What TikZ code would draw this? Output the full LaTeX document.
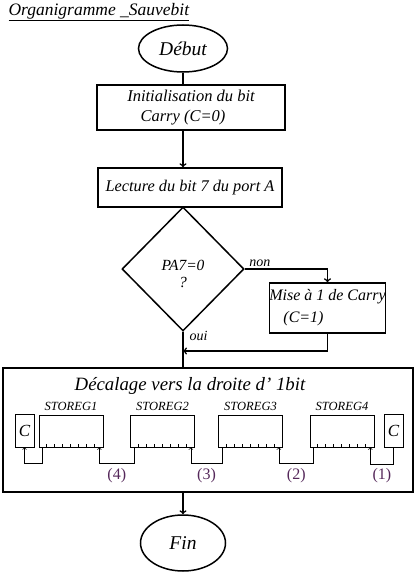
\documentclass[tikz,border=0pt]{standalone}
\usepackage{fontspec}
\setmainfont{Liberation Serif}
\usetikzlibrary{shapes.geometric,arrows}

\definecolor{violet}{RGB}{85,40,90}

\begin{document}
\begin{tikzpicture}[x=1pt,y=-1pt,
        trait/.style={line width=1.5pt},
        fleche/.style={trait,->},
        boite/.style={draw,trait,inner sep=0pt,align=center,font=\itshape\fontsize{16}{20}\selectfont},
        bout/.style={draw,trait,ellipse,inner sep=0pt,font=\itshape\fontsize{19.5}{22}\selectfont},
        reg/.style={draw,line width=0.7pt,minimum width=64pt,minimum height=32pt,inner sep=0pt},
        bitc/.style={draw,line width=0.7pt,minimum width=19pt,minimum height=33pt,inner sep=0pt,font=\itshape\fontsize{17}{20}\selectfont},
        nomreg/.style={font=\itshape\fontsize{12.5}{14}\selectfont,above=0pt},
        num/.style={below=1pt,text=violet,font=\fontsize{16}{18}\selectfont},
        petit/.style={font=\itshape\fontsize{14}{16}\selectfont},
        lien/.style={line width=0.7pt}]
        \useasboundingbox (0,0) rectangle (419,578);
        % titre
        \node[anchor=west,font=\itshape\fontsize{17.5}{20}\selectfont] (titre) at (5,12) {\underline{Organigramme \_Sauvebit}};
        % organigramme
        \node[bout,minimum width=89pt,minimum height=47pt] (debut) at (183,48.5) {D\'ebut};
        \node[boite,minimum width=188pt,minimum height=45pt,font=\itshape\fontsize{16.5}{20}\selectfont] (init) at (191,107.5)
                {Initialisation du bit\\Carry (C=0)\hspace*{16pt}};
        \node[boite,minimum width=184pt,minimum height=39pt,font=\itshape\fontsize{16.3}{20}\selectfont] (lecture) at (190,187.5)
                {Lecture du bit 7 du port A};
        \node[draw,trait,diamond,minimum width=122pt,minimum height=124pt,inner sep=0pt] (test) at (183,269) {};
        \node[align=center,font=\itshape\fontsize{15.5}{17}\selectfont] (cond) at ([yshift=-5pt]test.center) {PA7=0\\?};
        \node[boite,minimum width=115pt,minimum height=50pt,font=\itshape\fontsize{16}{22}\selectfont] (mise) at (327.5,308)
                {Mise \`a 1 de Carry\\(C=1)\hspace*{48pt}};
        \node[draw,trait,minimum width=410pt,minimum height=124pt] (decal) at (208,430) {};
        \node[font=\itshape\fontsize{18.8}{22}\selectfont] (titredecal) at (190,386)
                {D\'ecalage vers la droite d' 1bit};
        \node[bout,minimum width=85pt,minimum height=56pt] (fin) at (183,543) {Fin};
        % registres
        \node[bitc] (cg) at (24.5,430.5) {C};
        \node[reg] (r1) at (71,431) {};
        \node[reg] (r2) at (162.5,431) {};
        \node[reg] (r3) at (250.5,431) {};
        \node[reg] (r4) at (342,431) {};
        \node[bitc] (cd) at (393.5,431) {C};
        \foreach \r/\n in {r1/1,r2/2,r3/3,r4/4} {
                \node[nomreg] at (\r.north) {STOREG\n};
                \foreach \i in {1,...,7}
                        \draw[lien] ([xshift=8*\i pt]\r.south west) -- ++(0,-3);
        }
        % liaisons
        \draw[trait] (debut.south) -- (debut.south |- init.north);
        \draw[fleche] (init.south -| debut) -- (lecture.north -| debut);
        \draw[fleche] (test.east) -| (mise.north);
        \node[petit,anchor=south west] (non) at ([xshift=1pt,yshift=-1pt]test.east) {non};
        \node[petit,anchor=west] (oui) at ([xshift=3pt,yshift=-4pt]test.south) {oui};
        \coordinate (jonction) at (test.south |- 0,351);
        \draw[fleche] (mise.south) |- (jonction);
        \draw[trait] (test.south) -- (test.south |- decal.north);
        \draw[fleche] (decal.south -| fin) -- (fin.north);
        % decalages
        \draw[lien,->] ([xshift=4pt]r1.south west) -- ++(0,16) -| (cg.south);
        \draw[lien,->] ([xshift=4pt]r2.south west) -- ++(0,16) -| node[num,pos=0.25] {(4)} ([xshift=-4pt]r1.south east);
        \draw[lien,->] ([xshift=4pt]r3.south west) -- ++(0,16) -| node[num,pos=0.25] {(3)} ([xshift=-4pt]r2.south east);
        \draw[lien,->] ([xshift=4pt]r4.south west) -- ++(0,16) -| node[num,pos=0.25] {(2)} ([xshift=-4pt]r3.south east);
        \draw[lien,->] (cd.south) -- ++(0,16) -| node[num,pos=0.25] {(1)} ([xshift=-4pt]r4.south east);
\end{tikzpicture}
\end{document}
